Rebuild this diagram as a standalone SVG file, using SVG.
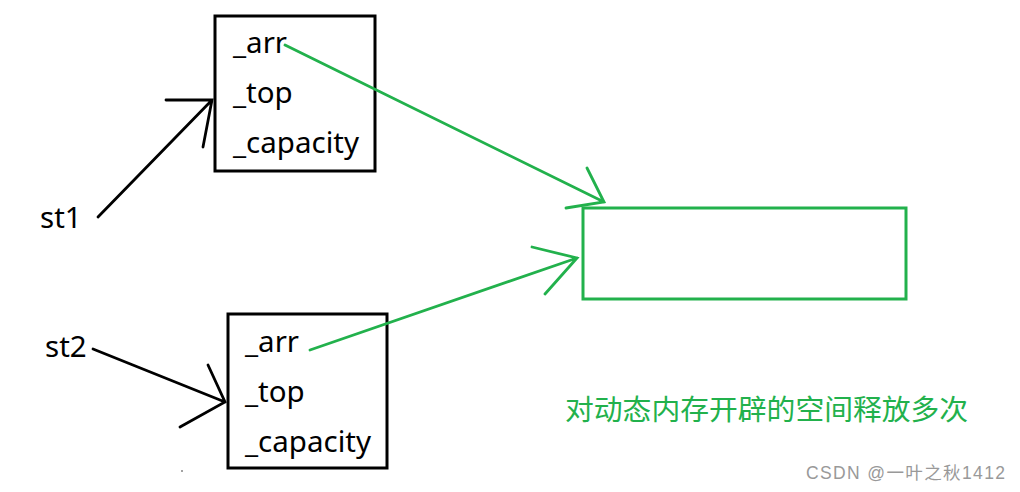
<svg xmlns="http://www.w3.org/2000/svg" width="1020" height="492" viewBox="0 0 1020 492">
<style>
.box{fill:none;stroke:#000;stroke-width:3}
.mem{fill:none;stroke:#22b14c;stroke-width:3}
.lbl{font-family:"Noto Sans","Open Sans",sans-serif;font-size:29.5px;fill:#000}
.blk{fill:none;stroke:#000;stroke-width:2.8;stroke-linecap:round}
.grn{fill:none;stroke:#22b14c;stroke-width:2.8;stroke-linecap:round}
.note{font-family:"Noto Sans CJK SC",sans-serif;font-size:28.8px;fill:#22b14c}
.wm{font-family:"Liberation Sans","Noto Sans CJK SC",sans-serif;font-size:17.5px;fill:#999}
</style>
<rect width="1020" height="492" fill="#fff"/>
<g id="st1">
<text class="lbl" x="40" y="228">st1</text>
</g>
<g id="st2">
<text class="lbl" x="45" y="357">st2</text>
</g>
<g id="stack1">
<rect class="box" x="215" y="16" width="160" height="155"/>
<text class="lbl" x="233" y="53">_arr</text>
<text class="lbl" x="233" y="103">_top</text>
<text class="lbl" x="233" y="153">_capacity</text>
</g>
<g id="stack2">
<rect class="box" x="228" y="314" width="159" height="154"/>
<text class="lbl" x="245" y="352">_arr</text>
<text class="lbl" x="245" y="402">_top</text>
<text class="lbl" x="245" y="452">_capacity</text>
</g>
<g id="heap">
<rect class="mem" x="583" y="208" width="323" height="91"/>
</g>
<g id="connectors">
<path class="blk" d="M98 217 L212 100 M166 100 L212 100 L203 147"/>
<path class="blk" d="M93 349 L225 402 M208 365 L225 402 L180 427"/>
<path class="grn" d="M285 45 L604 202 M587 168 L604 202 L566 208"/>
<path class="grn" d="M310 350 L577 258 M532 247 L577 258 L545 294"/>
</g>
<g id="note">
<text class="note" x="565" y="420">对动态内存开辟的空间释放多次</text>
</g>
<text class="wm" x="806" y="479" textLength="199">CSDN @一叶之秋1412</text>
<circle cx="182" cy="471" r="0.7" fill="#000"/>
</svg>
